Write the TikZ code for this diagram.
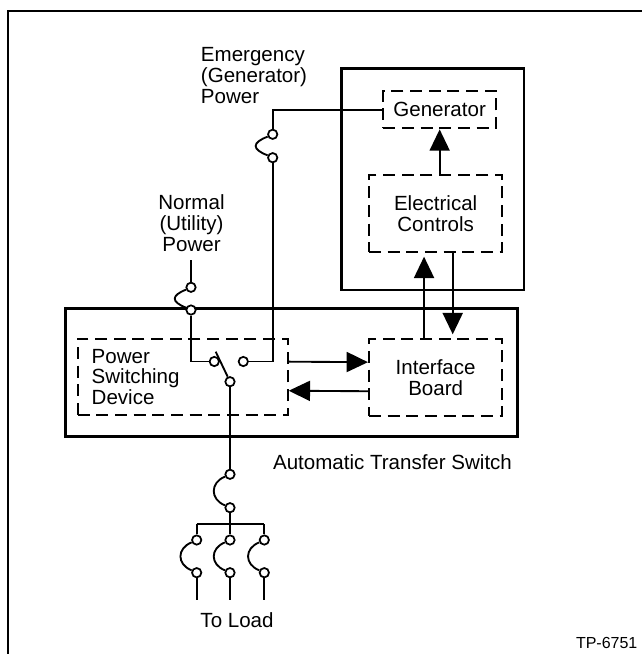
\documentclass[tikz,border=0pt]{standalone}
\usepackage{fontspec}
\setmainfont{Liberation Sans}
\usetikzlibrary{arrows.meta,calc}
\begin{document}
\begin{tikzpicture}[x=0.75pt,y=-0.75pt,
  every node/.style={font=\fontsize{15.4}{15.6}\selectfont},
  wire/.style={line width=1.4pt},
  solidbox/.style={draw,line width=2.1pt,inner sep=0pt},
  dbox/.style={draw,line width=1.5pt,dash pattern=on 9pt off 5pt,inner sep=0pt,align=center},
  term/.style={circle,draw,fill=white,line width=1.3pt,minimum size=7pt,inner sep=0pt},
  arr/.style={line width=1.4pt,-{Triangle[length=16pt,width=15pt]}},
]
\useasboundingbox (0,0) rectangle (642,654);
% outer frame
\draw[line width=1.8pt] (8,670) -- (8,11) -- (660,11);

% containers
\node[solidbox,minimum width=136.7pt,minimum height=166.3pt] (genset) at (432.85,179.15) {};
\node[solidbox,minimum width=339pt,minimum height=96pt] (ats) at (291.7,372.7) {};

% dashed blocks
\node[dbox,minimum width=84.5pt,minimum height=28pt] (gen) at (439.65,109.7) {Generator};
\node[dbox,minimum width=100pt,minimum height=57.5pt] (ec) at (435.65,213.35) {Electrical\\Controls};
\node[dbox,minimum width=100pt,minimum height=57.3pt] (ib) at (435.65,377.5) {Interface\\Board};
\node[dbox,minimum width=157.5pt,minimum height=57pt,align=left,text width=136.5pt,inner xsep=10.5pt] (psd) at (182.7,377) {Power\\Switching\\Device};

% terminals
\node[term] (e1) at (272.7,134.3) {};
\node[term] (e2) at (272.7,157.7) {};
\node[term] (n1) at (191,287.3) {};
\node[term] (n2) at (191,310) {};
\node[term] (sL) at (214.3,361.5) {};
\node[term] (sR) at (243.3,361.5) {};
\node[term] (sP) at (230,381.7) {};
\node[term] (f1) at (230,474.3) {};
\node[term] (f2) at (230,507.7) {};
\node[term] (la1) at (196.7,540) {};
\node[term] (la2) at (196.7,572.7) {};
\node[term] (lb1) at (230,540) {};
\node[term] (lb2) at (230,572.7) {};
\node[term] (lc1) at (264.3,540) {};
\node[term] (lc2) at (264.3,572.7) {};

% free ends
\coordinate (nIn) at (191,260);
\coordinate (bt) at (215.7,351.7);
\coordinate (bus) at (230,524.3);
\coordinate (busL) at (196.7,524.3);
\coordinate (busR) at (264.3,524.3);
\coordinate (oa) at (196.7,600);
\coordinate (ob) at (230,600);
\coordinate (oc) at (264.3,600);

% labels
\node[align=left,anchor=west,inner xsep=0pt] (lblE) at (200.7,75.4) {Emergency\\(Generator)\\Power};
\node[align=center] (lblN) at (191.5,223.3) {Normal\\(Utility)\\Power};
\node (lblA) at (392.5,462) {Automatic Transfer Switch};
\node (lblL) at (237,620) {To Load};
\node[font=\fontsize{12}{14}\selectfont] (lblT) at (606.7,643.3) {TP-6751};

% emergency feed
\draw[wire] (gen.west) -| (e1);
\draw[wire] (e1.205) .. controls +(-16,6) and +(-16,-6) .. (e2.155);
\draw[wire] (e2) |- (sR);
% normal feed
\draw[wire] (nIn) -- (n1);
\draw[wire] (n1.205) .. controls +(-15,6) and +(-15,-6) .. (n2.155);
\draw[wire] (n2) |- (sL);
% switch blade
\draw[wire] (sP.115) -- (bt);
% load side
\draw[wire] (sP) -- (f1);
\draw[wire] (f1.205) .. controls +(-15,6) and +(-15,-6) .. (f2.155);
\draw[wire] (f2) -- (bus);
\draw[wire] (busL) -- (busR);
\draw[wire] (busL) -- (la1);
\draw[wire] (bus) -- (lb1);
\draw[wire] (busR) -- (lc1);
\draw[wire] (la1.205) .. controls +(-15,6) and +(-15,-6) .. (la2.155);
\draw[wire] (lb1.205) .. controls +(-15,6) and +(-15,-6) .. (lb2.155);
\draw[wire] (lc1.205) .. controls +(-15,6) and +(-15,-6) .. (lc2.155);
\draw[wire] (la2) -- (oa);
\draw[wire] (lb2) -- (ob);
\draw[wire] (lc2) -- (oc);

% signal arrows
\draw[arr] (gen.south |- ec.north) -- (gen.south);
\draw[arr,shorten >=3pt] ([xshift=-8.7pt]ib.north) -- ([xshift=-8.7pt]ec.south);
\draw[arr,shorten >=3pt] ([xshift=12.8pt]ec.south) -- ([xshift=12.8pt]ib.north);
\draw[arr] ([yshift=11.5pt]psd.east) -- ([yshift=11.5pt]ib.west);
\draw[arr] ([yshift=-10.3pt]ib.west) -- ([yshift=-10.3pt]psd.east);
\end{tikzpicture}
\end{document}
